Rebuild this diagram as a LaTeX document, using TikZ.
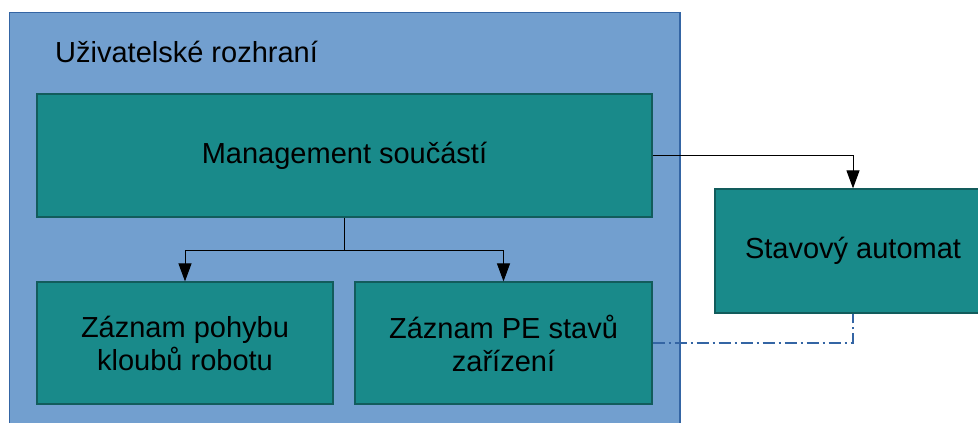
\documentclass[tikz,border=0pt]{standalone}
\usepackage{fontspec}
\setmainfont{Liberation Sans}
\usetikzlibrary{arrows.meta}
\definecolor{outerblue}{RGB}{114,159,207}
\definecolor{outerline}{RGB}{52,101,164}
\definecolor{teal}{RGB}{25,138,138}
\definecolor{tealline}{RGB}{18,92,92}
\tikzset{
  block/.style={draw=tealline, fill=teal, line width=1.2pt, inner sep=0pt, align=center,
    font=\fontsize{29}{33}\selectfont},
  conn/.style={draw=black, line width=1pt},
  tip/.style={-{Triangle[width=13pt,length=18pt]}},
  dashdot/.style={draw=outerline, line width=1.1pt, dash pattern=on 12pt off 4pt on 2pt off 4pt}
}
\begin{document}
\begin{tikzpicture}[x=1pt,y=-1pt]
\useasboundingbox (0,0) rectangle (978,423);
\clip (0,0) rectangle (978,423);
\fill[white] (0,0) rectangle (978,423);
\draw[fill=outerblue, draw=outerline, line width=1.2pt] (9.5,12.5) rectangle (680,440);
\node[anchor=west, inner sep=0pt, font=\fontsize{29}{34}\selectfont] (title) at (55,52) {Uživatelské rozhraní};
\node[block, minimum width=615pt, minimum height=123pt] (mgmt) at (344.5,155.5) {Management součástí};
\node[block, minimum width=296pt, minimum height=122pt] (zp) at (185,343) {Záznam pohybu\\kloubů robotu};
\node[block, minimum width=297pt, minimum height=122pt] (zpe) at (503.5,343) {Záznam PE stavů\\zařízení};
\node[block, minimum width=276pt, minimum height=124pt] (sa) at (853,251) {Stavový automat};
\coordinate (split) at (344.5,250);
\draw[conn, tip] (mgmt.east) -| (sa.north);
\draw[conn] (mgmt.south) -- (split);
\draw[conn, tip] (split) -| (zp.north);
\draw[conn, tip] (split) -| (zpe.north);
\draw[dashdot] (zpe.east) -| (sa.south);
\end{tikzpicture}
\end{document}
